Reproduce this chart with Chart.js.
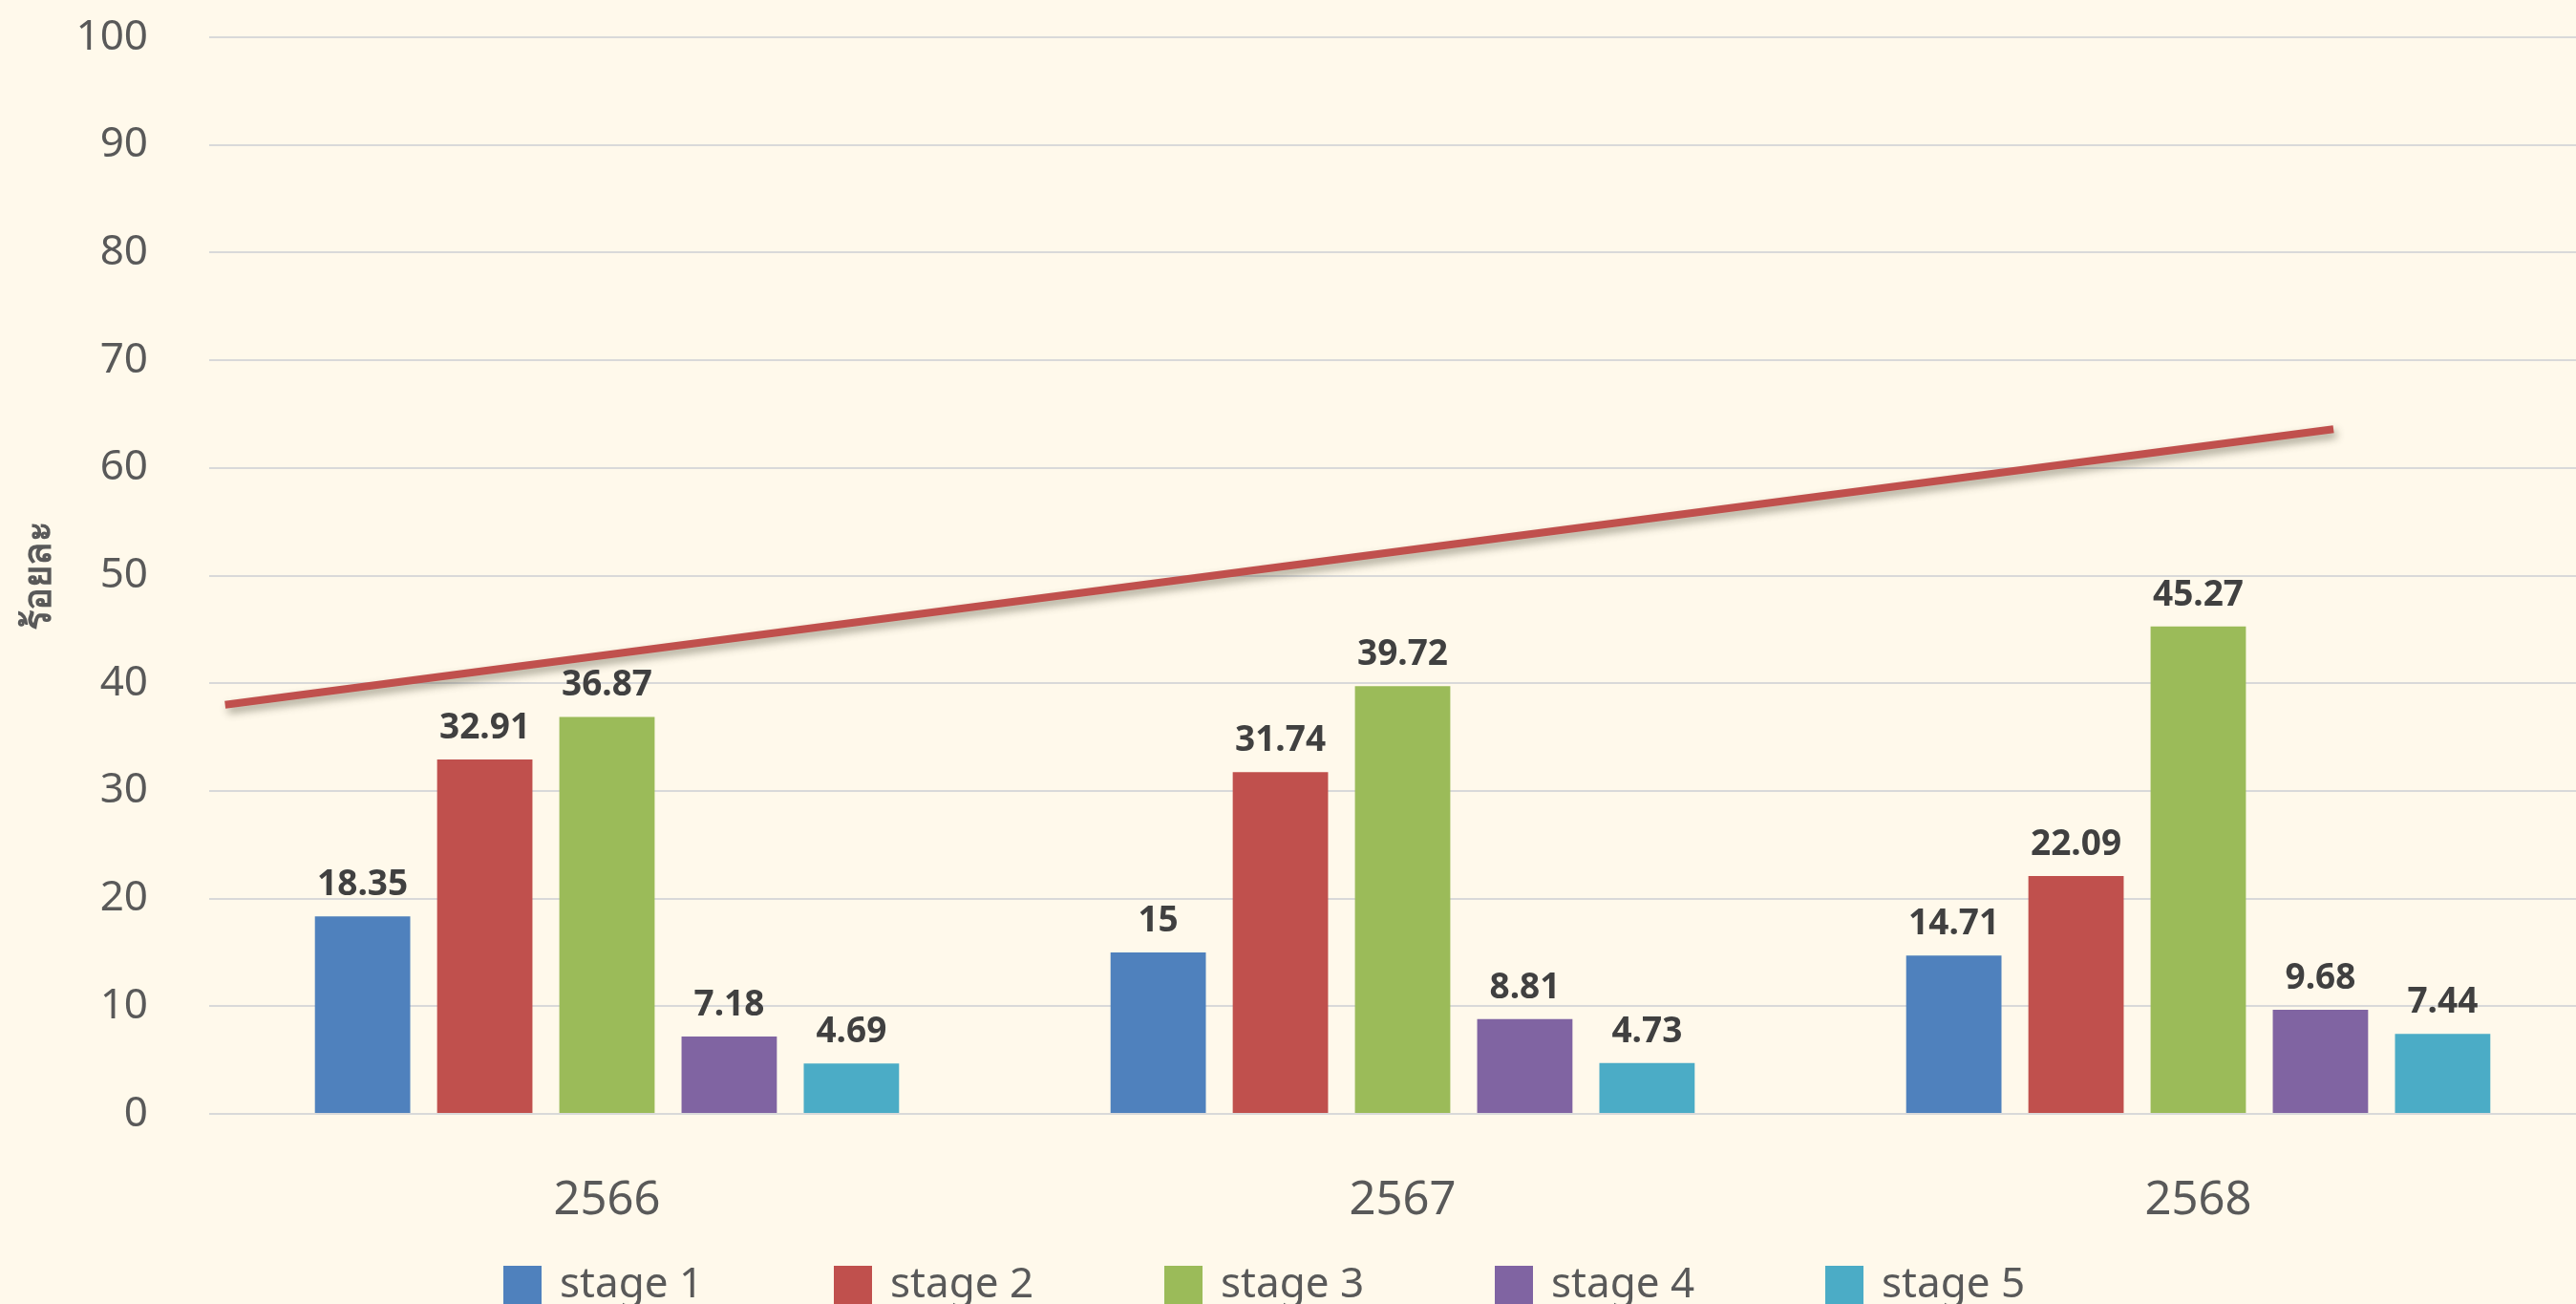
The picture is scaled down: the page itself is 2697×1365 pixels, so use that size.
<!DOCTYPE html>
<html>
<head>
<meta charset="utf-8">
<script src="https://cdn.jsdelivr.net/npm/chart.js@4.4.1/dist/chart.umd.min.js"></script>
<style>
    html, body { margin: 0; padding: 0; background: #FFF9EB; overflow: hidden; }
    #wrap { width: 2718px; height: 1400px; }
</style>
</head>
<body>
<div id="wrap"><canvas id="stage-chart"></canvas></div>
<script>
// Categories (Thai Buddhist years)
const YEARS = ['2566', '2567', '2568'];

// Percent per stage, one array per series
const STAGE_1 = [18.35, 15, 14.71];
const STAGE_2 = [32.91, 31.74, 22.09];
const STAGE_3 = [36.87, 39.72, 45.27];
const STAGE_4 = [7.18, 8.81, 9.68];
const STAGE_5 = [4.69, 4.73, 7.44];

const STAGE_NAMES = ['stage 1', 'stage 2', 'stage 3', 'stage 4', 'stage 5'];
const STAGE_COLORS = ['#4F81BD', '#C0504D', '#9BBB59', '#8064A2', '#4BACC6'];

// Trend arrow drawn over the groups (x in category index units, y in percent)
const TREND_X = [-0.48, 2.17];
const TREND_Y = [38.0, 63.6];

const Y_TITLE = 'ร้อยละ';
const FONT = '"Noto Sans", "Open Sans", "DejaVu Sans", sans-serif';

// Value labels above each bar
const valueLabels = {
    id: 'valueLabels',
    afterDatasetsDraw(chart) {
        const ctx = chart.ctx;
        ctx.save();
        ctx.font = 'bold 37px ' + FONT;
        ctx.fillStyle = '#404040';
        ctx.textAlign = 'center';
        ctx.textBaseline = 'alphabetic';
        chart.data.datasets.forEach((ds, i) => {
            if (ds.type !== 'bar') return;
            const meta = chart.getDatasetMeta(i);
            meta.data.forEach((bar, j) => {
                ctx.fillText(String(ds.data[j]), bar.x, bar.y - 22);
            });
        });
        ctx.restore();
    }
};

// Soft shadow under the trend line
const lineShadow = {
    id: 'lineShadow',
    beforeDatasetDraw(chart, args) {
        if (chart.data.datasets[args.index].type !== 'line') return;
        const ctx = chart.ctx;
        ctx.save();
        ctx.shadowColor = 'rgba(60, 60, 40, 0.45)';
        ctx.shadowBlur = 8;
        ctx.shadowOffsetX = 3;
        ctx.shadowOffsetY = 5;
    },
    afterDatasetDraw(chart, args) {
        if (chart.data.datasets[args.index].type !== 'line') return;
        chart.ctx.restore();
    }
};

// Legend row along the bottom, spaced like the original
const bottomLegend = {
    id: 'bottomLegend',
    afterDraw(chart) {
        const ctx = chart.ctx;
        const startX = 527;
        const pitch = 346;
        const midY = 1345;
        ctx.save();
        ctx.font = '44px ' + FONT;
        ctx.textBaseline = 'middle';
        ctx.textAlign = 'left';
        let k = 0;
        chart.data.datasets.forEach(ds => {
            if (ds.type !== 'bar') return;
            const x = startX + k * pitch;
            ctx.fillStyle = ds.backgroundColor;
            ctx.fillRect(x, midY - 20, 40, 40);
            ctx.fillStyle = '#595959';
            ctx.fillText(ds.label, x + 59, midY);
            k++;
        });
        ctx.restore();
    }
};

const seriesValues = [STAGE_1, STAGE_2, STAGE_3, STAGE_4, STAGE_5];
const barSets = seriesValues.map((vals, i) => ({
    type: 'bar',
    label: STAGE_NAMES[i],
    data: vals,
    backgroundColor: STAGE_COLORS[i],
    borderWidth: 0,
    categoryPercentage: 0.768,
    barPercentage: 0.78
}));

// parsing off so the fractional x positions go straight to the category scale
const trendSet = {
    type: 'line',
    label: 'trend',
    data: TREND_X.map((x, i) => ({ x: x, y: TREND_Y[i] })),
    parsing: false,
    borderColor: '#C0504D',
    borderWidth: 8,
    borderCapStyle: 'butt',
    pointRadius: 0,
    fill: false
};

document.addEventListener('DOMContentLoaded', () => {
    const ctx = document.getElementById('stage-chart').getContext('2d');
    new Chart(ctx, {
        type: 'bar',
        data: {
            labels: YEARS,
            datasets: [...barSets, trendSet]
        },
        options: {
            responsive: true,
            maintainAspectRatio: false,
            animation: false,
            layout: {
                padding: { top: 39, left: 18, right: 0, bottom: 112 }
            },
            plugins: {
                legend: { display: false },
                tooltip: { enabled: false }
            },
            scales: {
                x: {
                    grid: { display: false, drawTicks: false },
                    border: { display: false },
                    ticks: {
                        color: '#595959',
                        font: { family: FONT, size: 49 },
                        padding: 62
                    },
                    // label sizes come out oversized, so pin the axis box
                    afterFit(scale) {
                        scale.height = 122;
                        scale.paddingLeft = 0;
                        scale.paddingRight = 0;
                    }
                },
                y: {
                    min: 0,
                    max: 100,
                    border: { display: false },
                    grid: { color: '#D9D9D9', lineWidth: 2, drawTicks: false },
                    ticks: {
                        stepSize: 10,
                        color: '#595959',
                        font: { family: FONT, size: 44 },
                        padding: 64
                    },
                    title: {
                        display: true,
                        text: Y_TITLE,
                        color: '#595959',
                        font: { family: FONT, size: 40, weight: 'bold' },
                        padding: { top: 0, bottom: 22 }
                    },
                    afterFit(scale) {
                        scale.width = 201;
                        scale.paddingTop = 0;
                        scale.paddingBottom = 0;
                    }
                }
            }
        },
        plugins: [valueLabels, lineShadow, bottomLegend]
    });
});
</script>
</body>
</html>
